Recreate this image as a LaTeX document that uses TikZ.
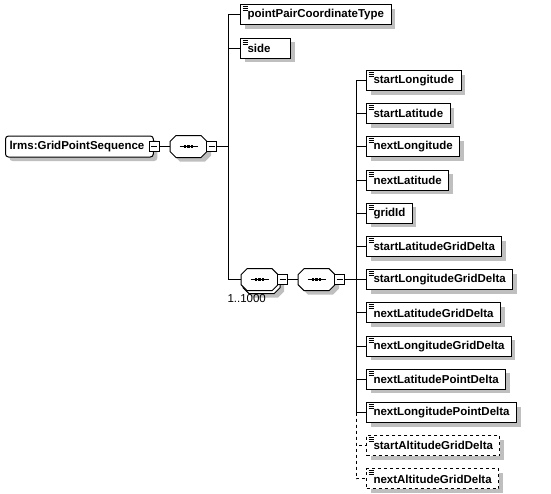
\documentclass[tikz,border=0pt]{standalone}
\usepackage{fontspec}
\setmainfont{Liberation Sans}
\usetikzlibrary{positioning, shadows}

% sequence compositor: octagon with three dots
\newcommand\compositor[2][shade]{%
    \draw[fill=white, #1] ([xshift=6pt]#2.north west) -- ([xshift=-6pt]#2.north east) -- ([yshift=-6pt]#2.north east)
        -- ([yshift=6pt]#2.south east) -- ([xshift=-6pt]#2.south east) -- ([xshift=6pt]#2.south west)
        -- ([yshift=6pt]#2.south west) -- ([yshift=-6pt]#2.north west) -- cycle;
    \draw ([xshift=-9pt]#2.center) -- ([xshift=9pt]#2.center);
    \foreach \dx in {-3.4,0,3.4}
        \fill ([xshift=\dx pt]#2.center) +(-1.1,-1.5) rectangle +(1.1,1.5);}

\begin{document}
\begin{tikzpicture}[
        x=1pt, y=-1pt, line width=1pt,
        font=\fontsize{11.5}{13}\selectfont,
        shade/.style={drop shadow={shadow xshift=4pt, shadow yshift=-4pt, fill=black!25, opacity=1}},
        elem/.style={draw, fill=white, rectangle, minimum height=20pt, inner xsep=7pt, inner ysep=0pt,
            font=\fontsize{11.5}{13}\selectfont\bfseries, shade,
            path picture={
                \draw[solid, line width=0.9pt] ([xshift=2pt,yshift=-2pt]path picture bounding box.north west) -- ++(5,0)
                    ([xshift=2pt,yshift=-4pt]path picture bounding box.north west) -- ++(5,0)
                    ([xshift=2pt,yshift=-6pt]path picture bounding box.north west) -- ++(5,0);}},
        optelem/.style={elem, dashed},
        root/.style={draw, fill=white, rectangle, rounded corners=3pt, minimum height=21pt,
            inner xsep=4pt, inner ysep=0pt, font=\fontsize{11.5}{13}\selectfont\bfseries, shade},
        seq/.style={rectangle, minimum width=36pt, minimum height=21pt, inner sep=0pt},
        minusbox/.style={draw, fill=white, rectangle, minimum size=10pt, inner sep=0pt,
            path picture={
                \draw ([xshift=2pt]path picture bounding box.west) -- ([xshift=-2pt]path picture bounding box.east);}},
        mult/.style={inner sep=0pt, font=\fontsize{11.5}{13}\selectfont}
    ]
    \useasboundingbox (0,0) rectangle (551,493);

    % root element and its sequence
    \node[root, anchor=west] (gps) at (5,146.5) {lrms:GridPointSequence\kern5pt};
    \node[seq, anchor=west] (seqA) at (170,146.5) {};
    \compositor{seqA}
    \node[minusbox, right=-5pt of gps] (mRoot) {};
    \node[minusbox, right=-1pt of seqA] (mA) {};
    \coordinate[right=11pt of mA] (jA);

    \node[elem, anchor=west] (ppct) at (240,14.5) {pointPairCoordinateType};
    \node[elem, text width=36pt, below=12.5pt of ppct.south west, anchor=north west] (side) {side};

    % repeated sequence 1..1000
    \node[seq, anchor=west] (seqBback) at (243,282.7) {};
    \node[seq, anchor=west] (seqB) at (241,279.7) {};
    \compositor{seqBback}
    \compositor[solid]{seqB}
    \node[mult, anchor=north west] (occ) at (227,294) {1..1000};
    \node[minusbox, right=-1pt of seqB] (mB) {};
    \node[seq, right=10pt of mB] (seqC) {};
    \compositor{seqC}
    \node[minusbox, right=-1pt of seqC] (mC) {};
    \coordinate[right=11pt of mC] (jB);

    \node[elem, anchor=west] (sLon) at (366,80.5) {startLongitude};
    \node[elem, below=12.2pt of sLon.south west, anchor=north west] (sLat) {startLatitude};
    \node[elem, below=12.2pt of sLat.south west, anchor=north west] (nLon) {nextLongitude};
    \node[elem, below=12.2pt of nLon.south west, anchor=north west] (nLat) {nextLatitude};
    \node[elem, below=12.2pt of nLat.south west, anchor=north west] (gid) {gridId};
    \node[elem, below=12.2pt of gid.south west, anchor=north west] (sLatGD) {startLatitudeGridDelta};
    \node[elem, below=12.2pt of sLatGD.south west, anchor=north west] (sLonGD) {startLongitudeGridDelta};
    \node[elem, below=12.2pt of sLonGD.south west, anchor=north west] (nLatGD) {nextLatitudeGridDelta};
    \node[elem, below=12.2pt of nLatGD.south west, anchor=north west] (nLonGD) {nextLongitudeGridDelta};
    \node[elem, below=12.2pt of nLonGD.south west, anchor=north west] (nLatPD) {nextLatitudePointDelta};
    \node[elem, below=12.2pt of nLatPD.south west, anchor=north west] (nLonPD) {nextLongitudePointDelta};
    \node[optelem, below=12.2pt of nLonPD.south west, anchor=north west] (sAltGD) {startAltitudeGridDelta};
    \node[optelem, below=12.2pt of sAltGD.south west, anchor=north west] (nAltGD) {nextAltitudeGridDelta};

    % connectors
    \draw (mRoot) -- (seqA);
    \draw (mA) -- (jA);
    \draw (jA) |- (ppct);
    \draw (jA) |- (side);
    \draw (jA) |- (seqB);
    \draw (mB) -- (seqC);
    \draw (mC) -- (jB);
    \foreach \c in {sLon, sLat, nLon, nLat, gid, sLatGD, sLonGD, nLatGD, nLonGD, nLatPD, nLonPD}
        \draw (jB) |- (\c);
    \draw[dashed] (jB |- nLonPD) |- (sAltGD);
    \draw[dashed] (jB |- nLonPD) |- (nAltGD);
\end{tikzpicture}
\end{document}
